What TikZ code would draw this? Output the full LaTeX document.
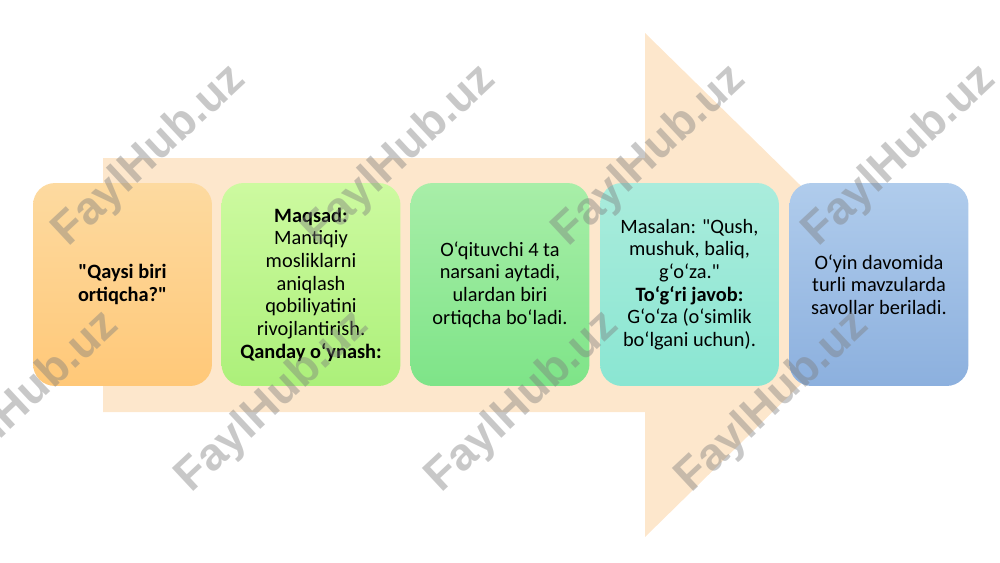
\documentclass[tikz,border=0pt]{standalone}
\usepackage{fontspec}
\setmainfont{Carlito}[Ligatures=TeXOff]
\newfontfamily\wmfont{Liberation Sans}
\definecolor{arrowc}{RGB}{253,231,204}
\definecolor{c1t}{RGB}{253,218,160}
\definecolor{c1b}{RGB}{255,200,120}
\definecolor{c2t}{RGB}{205,250,160}
\definecolor{c2b}{RGB}{172,240,122}
\definecolor{c3t}{RGB}{168,238,168}
\definecolor{c3b}{RGB}{126,228,136}
\definecolor{c4t}{RGB}{170,236,220}
\definecolor{c4b}{RGB}{138,230,210}
\definecolor{c5t}{RGB}{176,204,236}
\definecolor{c5b}{RGB}{140,176,222}
\definecolor{wmc}{RGB}{125,125,125}
\begin{document}
\begin{tikzpicture}[x=0.02cm,y=-0.02cm,
  box/.style={rounded corners=0.44cm, minimum width=3.58cm, minimum height=4.06cm,
    align=center, inner sep=0pt,
    font=\fontsize{11.6}{12.9}\selectfont},
  wm/.style={rotate=43, text=wmc, opacity=0.42,
    font=\wmfont\bfseries\fontsize{26}{26}\selectfont}]
\useasboundingbox (0,0) rectangle (1000,562);
% background arrow
\fill[arrowc] (103,158) -- (645,158) -- (645,33) -- (902,285) -- (645,537)
  -- (645,412) -- (103,412) -- cycle;
% boxes
\node[box, top color=c1t, bottom color=c1b] (box1) at (122.5,284.5)
  {\textbf{"Qaysi biri}\\\textbf{ortiqcha?"}};
\node[box, top color=c2t, bottom color=c2b] (box2) at (311,284.5)
  {\textbf{Maqsad:}\\Mantiqiy\\mosliklarni\\aniqlash\\qobiliyatini\\rivojlantirish.\\\textbf{Qanday o‘ynash:}};
\node[box, top color=c3t, bottom color=c3b] (box3) at (500,284.5)
  {O‘qituvchi 4 ta\\narsani aytadi,\\ulardan biri\\ortiqcha bo‘ladi.};
\node[box, top color=c4t, bottom color=c4b] (box4) at (689.5,284.5)
  {Masalan: "Qush,\\mushuk, baliq,\\g‘o‘za."\\\textbf{To‘g‘ri javob:}\\G‘o‘za (o‘simlik\\bo‘lgani uchun).};
\node[box, top color=c5t, bottom color=c5b] (box5) at (879,284.5)
  {O‘yin davomida\\turli mavzularda\\savollar beriladi.};
% watermarks
\node[wm] (wm1) at (150,156) {FaylHub.uz};
\node[wm] (wm2) at (400,156) {FaylHub.uz};
\node[wm] (wm3) at (650,156) {FaylHub.uz};
\node[wm] (wm4) at (900,156) {FaylHub.uz};
\node[wm] (wm5) at (23,402) {FaylHub.uz};
\node[wm] (wm6) at (273,402) {FaylHub.uz};
\node[wm] (wm7) at (523,402) {FaylHub.uz};
\node[wm] (wm8) at (773,402) {FaylHub.uz};
\end{tikzpicture}
\end{document}
